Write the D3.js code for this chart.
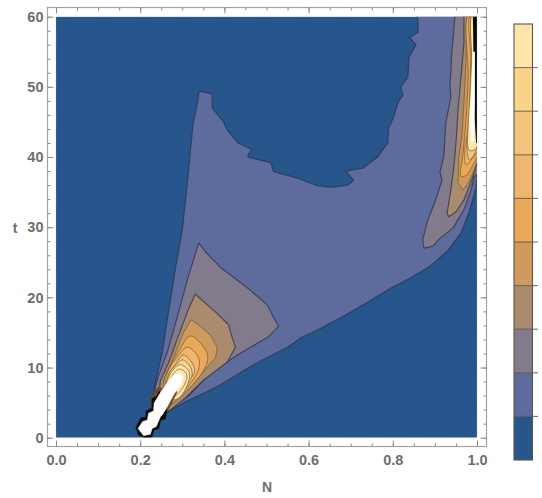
<!DOCTYPE html>
<html>
    <head>
        <script src="https://cdn.jsdelivr.net/npm/d3@7/dist/d3.min.js"></script>
    </head>
    <style>
        html, body { margin: 0; padding: 0; background: #fff; }
        text { font-family: "Liberation Sans", Arial, sans-serif; font-weight: bold; fill: #6e6e6e; }
    </style>
    <body>
        <div id="canvas"></div>
        <script>
            // colours of the contour bands, lowest to highest
            const levelColors = ['#27568c', '#5d6c9d', '#827b8b', '#a98b6e', '#cf9a5d', '#e9a958', '#efb76e', '#f4c47c', '#fad389', '#fee5aa'];
            const legendLevels = [0, 1, 2, 3, 4, 5, 6, 7, 8, 9, 10];
            const xMajor = [0, 0.2, 0.4, 0.6, 0.8, 1];
            const xMinor = d3.range(0, 1.001, 0.05);
            const yMajor = [0, 10, 20, 30, 40, 50, 60];
            const yMinor = d3.range(0, 60.1, 2);

            // contours, as [N, t]
            const band1 = [[.224,4.2],[.229,5.4],[.236,7.8],[.252,12.1],[.267,17.8],[.283,23.9],[.3,29.6],[.312,36.3],[.321,42],[.326,44.9],[.336,47.7],[.34,49.4],[.371,49],[.371,47],[.398,45],[.407,43.8],[.433,42],[.464,41.1],[.455,40],[.51,39.2],[.517,37.9],[.574,37],[.621,35.9],[.657,35.7],[.693,36],[.707,36.7],[.688,38],[.729,38.4],[.764,40],[.788,42],[.79,44.1],[.802,45.7],[.812,47.7],[.824,48.8],[.819,50],[.836,51.4],[.838,54.2],[.855,56],[.84,57],[.86,57.8],[.86,59.5],[.855,60.5],[1.01,60.5],[1.01,38.1],[1,38.1],[.998,35.7],[.981,32.1],[.962,29.2],[.931,26.7],[.89,24.5],[.843,22.8],[.795,21.3],[.748,19.6],[.688,17.5],[.629,15.6],[.581,14.2],[.55,12.9],[.469,10.4],[.39,7.5],[.343,6.1],[.307,5.1],[.271,3.9],[.224,1.8]];
            const band2Left = [[.34,27.7],[.355,26.5],[.39,24.3],[.462,21],[.502,18.9],[.517,17.1],[.529,15.9],[.505,14.4],[.431,11.8],[.367,9.2],[.312,5.8],[.279,4.7],[.236,1.8],[.236,7.2],[.243,8.7],[.264,12.1],[.288,17.2],[.312,22.5],[.336,27.2]];
            const band3Left = [[.331,20.5],[.343,19.8],[.379,17.9],[.41,16.1],[.414,15.1],[.426,12.9],[.407,10.8],[.35,8.2],[.302,5.4],[.271,3.9],[.24,3.2],[.248,8.2],[.267,10.6],[.29,14.4],[.314,18.2]];
            const band4Left = [[.321,16.8],[.338,16.1],[.367,14.6],[.383,12.9],[.379,11.4],[.35,9.4],[.307,6.4],[.26,4.2],[.255,8.2],[.279,11.4],[.302,14.9]];
            const band5Left = [[.319,14.5],[.343,13.5],[.36,11.8],[.355,10.1],[.319,7.2],[.267,4.7],[.257,8.2],[.271,10.1],[.293,12.5]];
            const band6Left = [[.312,12.9],[.331,12.1],[.34,11.1],[.338,9.6],[.312,7.2],[.271,4.9],[.262,8.7],[.288,11.5]];
            const band7Left = [[.302,11.8],[.324,10.6],[.329,9.4],[.307,7.5],[.276,5.4],[.267,8.9],[.283,10.4]];
            const band8Left = [[.3,11.1],[.319,10.1],[.323,8.8],[.302,6.9],[.271,5.2],[.262,7.5],[.271,9.4],[.286,10.4]];
            const band9Left = [[.295,10.4],[.316,9.4],[.314,7.8],[.29,5.6],[.257,5.5],[.271,9]];
            const band10Left = [[.293,9.8],[.31,9.1],[.307,7.8],[.281,5.9],[.26,6.1],[.276,8.8]];
            const fringeLeft = [[.224,5.4],[.243,7.1],[.286,6.5],[.271,4.6],[.255,2.8]];
            const peakEdge = [[.19,1.5],[.202,2.8],[.214,2.9],[.214,3.8],[.228,4.2],[.228,5.6],[.238,5.8],[.245,6.6],[.262,5.2],[.262,3.7],[.26,2.7],[.248,2.5],[.244,1.3],[.232,1.1],[.228,.1],[.21,.06],[.196,.4]];
            const peakTop = [[.195,1.3],[.206,2.3],[.217,2.5],[.22,3.5],[.232,3.8],[.233,4.9],[.248,6.4],[.264,7.8],[.279,8.9],[.295,9.2],[.302,8.5],[.295,7.5],[.279,6.1],[.264,4.4],[.252,3.2],[.248,3],[.238,1.6],[.228,1.3],[.224,.5],[.208,.3]];

            const band2Right = [[.948,60.5],[.945,58.1],[.94,54.8],[.936,50],[.938,48.6],[.926,44.9],[.921,40],[.912,37.9],[.917,36.7],[.902,33.9],[.883,31],[.871,28.2],[.874,27],[.895,27.3],[.91,28.3],[.943,29.9],[.969,32.5],[.986,35.3],[.993,37.2],[1.01,38.1],[1.01,60.5]];
            const band3Right = [[.969,60.5],[.969,56.2],[.962,51.4],[.955,46.7],[.95,42],[.945,38.6],[.938,35.3],[.929,32],[.933,31.5],[.95,32.2],[.969,33.9],[.981,35.7],[.993,37.7],[1.01,41],[1.01,60.5]];
            const band4Right = [[.976,60.5],[.974,53.8],[.969,47.7],[.964,42.9],[.957,40],[.955,36.3],[.967,35.3],[.979,36.3],[.99,37.7],[1.01,41],[1.01,60.5]];
            const band5Right = [[.981,60.5],[.979,51.4],[.974,45.3],[.967,40.6],[.962,37.2],[.974,37.4],[.988,38.6],[1.01,42],[1.01,60.5]];
            const band6Right = [[.986,60.5],[.985,53.8],[.983,48.1],[.979,43.8],[.971,41],[.974,38.9],[.986,39.6],[1.01,42],[1.01,60.5]];
            const band7Right = [[.99,60.5],[.988,53.8],[.985,48.1],[.979,44.5],[.976,41.7],[.981,39.6],[.993,40.3],[1.01,45],[1.01,60.5]];
            const band9Right = [[.99,60.5],[.987,53.8],[.983,48.5],[.979,44.6],[.981,41],[.993,41],[1.01,43],[1.01,60.5]];
            const peakRightTop = [[.99,55],[.986,49],[.983,45.3],[.986,42],[.993,42.4],[.995,48.1],[.995,55]];
            const peakRightEdge = [[.99,60.5],[.994,45.7],[.998,42],[1.01,42],[1.01,60.5]];

            // paint order, low bands first
            const contours = [
                [1, band1], [2, band2Left], [2, band2Right],
                [3, band3Left], [3, band3Right], [4, band4Left], [4, band4Right],
                [5, band5Left], [5, band5Right], [6, band6Left], [6, band6Right],
                [7, band7Left], [7, band7Right], [8, band8Left],
                [9, band9Left], [9, band9Right], [9, band10Left]
            ];

            const w = 542;
            const h = 498;

            const svg = d3.select('#canvas')
                .append('svg')
                .attr('width', w)
                .attr('height', h)
                .style('display', 'block');

            const x = d3.scaleLinear().domain([0, 1]).range([56, 477]);
            const y = d3.scaleLinear().domain([0, 60]).range([437.7, 16.7]);

            const line = d3.line()
                .x(d => x(d[0]))
                .y(d => y(d[1]))
                .curve(d3.curveLinearClosed);

            // the small arcs near the peaks are rounded in the original
            const roundLine = d3.line()
                .x(d => x(d[0]))
                .y(d => y(d[1]))
                .curve(d3.curveCatmullRomClosed.alpha(0.5));

            svg.append('clipPath').attr('id', 'plotClip')
                .append('rect')
                .attr('x', x(0))
                .attr('y', y(60))
                .attr('width', x(1) - x(0))
                .attr('height', y(0) - y(60));

            const plot = svg.append('g').attr('clip-path', 'url(#plotClip)');

            plot.append('rect')
                .attr('x', x(0))
                .attr('y', y(60))
                .attr('width', x(1) - x(0))
                .attr('height', y(0) - y(60))
                .attr('fill', levelColors[0]);

            // contour lines turn brown on the warm bands
            plot.selectAll('path.band')
                .data(contours)
                .enter()
                .append('path')
                .attr('class', 'band')
                .attr('d', d => d[0] < 5 ? line(d[1]) : roundLine(d[1]))
                .attr('fill', d => levelColors[d[0]])
                .attr('stroke', d => d[0] < 4 ? '#2b3148' : '#6b4f2a')
                .attr('stroke-opacity', d => d[0] < 4 ? 0.72 : 0.7)
                .attr('stroke-width', d => d[0] < 4 ? 1.2 : 0.9)
                .attr('stroke-linejoin', 'round');

            // the clipped peaks, black rim around white
            plot.append('path').attr('d', line(fringeLeft)).attr('fill', '#6b4c24').attr('stroke', '#6b4c24').attr('stroke-width', 1.5).attr('stroke-linejoin', 'round');
            plot.append('path').attr('d', line(peakEdge)).attr('fill', '#0c0a06').attr('stroke', '#0c0a06').attr('stroke-width', 0.8);
            plot.append('path').attr('d', line(peakTop)).attr('fill', '#fff').attr('stroke', '#fff').attr('stroke-width', 0.6);
            plot.append('path').attr('d', line(peakRightEdge)).attr('fill', '#0c0a06');
            plot.append('path').attr('d', line(peakRightTop)).attr('fill', '#fff');

            // dotted rim of the plot region
            svg.append('rect')
                .attr('x', x(0))
                .attr('y', y(60))
                .attr('width', x(1) - x(0))
                .attr('height', y(0) - y(60))
                .attr('fill', 'none')
                .attr('stroke', '#9db4d0')
                .attr('stroke-width', 0.6)
                .attr('stroke-dasharray', '1 1.5');

            // frame
            svg.append('rect')
                .attr('x', 47.5)
                .attr('y', 7.5)
                .attr('width', 439)
                .attr('height', 439)
                .attr('fill', 'none')
                .attr('stroke', '#a3a3a3')
                .attr('stroke-width', 1.2);

            const tickColor = '#8a8a8a';
            const addAxis = function(axis, dx, dy) {
                const g = svg.append('g').attr('transform', `translate(${dx},${dy})`).call(axis);
                g.select('.domain').remove();
                g.selectAll('line').attr('stroke', tickColor);
                return g;
            };

            addAxis(d3.axisBottom(x).tickValues(xMinor).tickSize(-3).tickFormat(''), 0, 446.5);
            addAxis(d3.axisTop(x).tickValues(xMinor).tickSize(-3).tickFormat(''), 0, 7.5);
            addAxis(d3.axisLeft(y).tickValues(yMinor).tickSize(-3).tickFormat(''), 47.5, 0);
            addAxis(d3.axisRight(y).tickValues(yMinor).tickSize(-3).tickFormat(''), 486.5, 0);
            addAxis(d3.axisTop(x).tickValues(xMajor).tickSize(-6).tickFormat(''), 0, 7.5);
            addAxis(d3.axisRight(y).tickValues(yMajor).tickSize(-6).tickFormat(''), 486.5, 0);

            const xAxis = addAxis(d3.axisBottom(x).tickValues(xMajor).tickSize(-6).tickPadding(8.5).tickFormat(d3.format('.1f')), 0, 446.5);
            const yAxis = addAxis(d3.axisLeft(y).tickValues(yMajor).tickSize(-6).tickPadding(4).tickFormat(d3.format('d')), 47.5, 0);
            xAxis.selectAll('text').attr('font-size', '14.5px');
            yAxis.selectAll('text').attr('font-size', '14.5px');

            svg.append('text').text('N').attr('x', 267).attr('y', 492).attr('text-anchor', 'middle').attr('font-size', '14px');
            svg.append('text').text('t').attr('x', 15).attr('y', 233).attr('text-anchor', 'middle').attr('font-size', '14px');

            // legend bar
            const legendY = d3.scaleLinear().domain([0, 10]).range([460, 24]);
            const bar = svg.append('g');

            bar.selectAll('rect')
                .data(legendLevels.slice(0, 10))
                .enter()
                .append('rect')
                .attr('x', 514)
                .attr('width', 18.5)
                .attr('y', d => legendY(d + 1))
                .attr('height', d => legendY(d) - legendY(d + 1))
                .attr('fill', d => levelColors[d]);

            bar.append('rect')
                .attr('x', 514)
                .attr('y', legendY(10))
                .attr('width', 18.5)
                .attr('height', legendY(0) - legendY(10))
                .attr('fill', 'none')
                .attr('stroke', '#5c5548')
                .attr('stroke-width', 1.1);

            bar.selectAll('line.step')
                .data(legendLevels.slice(1, 10))
                .enter()
                .append('line')
                .attr('class', 'step')
                .attr('x1', 514)
                .attr('x2', 538)
                .attr('y1', d => legendY(d))
                .attr('y2', d => legendY(d))
                .attr('stroke', '#55514d')
                .attr('stroke-opacity', 0.8)
                .attr('stroke-width', 1.1);
        </script>
    </body>
</html>
